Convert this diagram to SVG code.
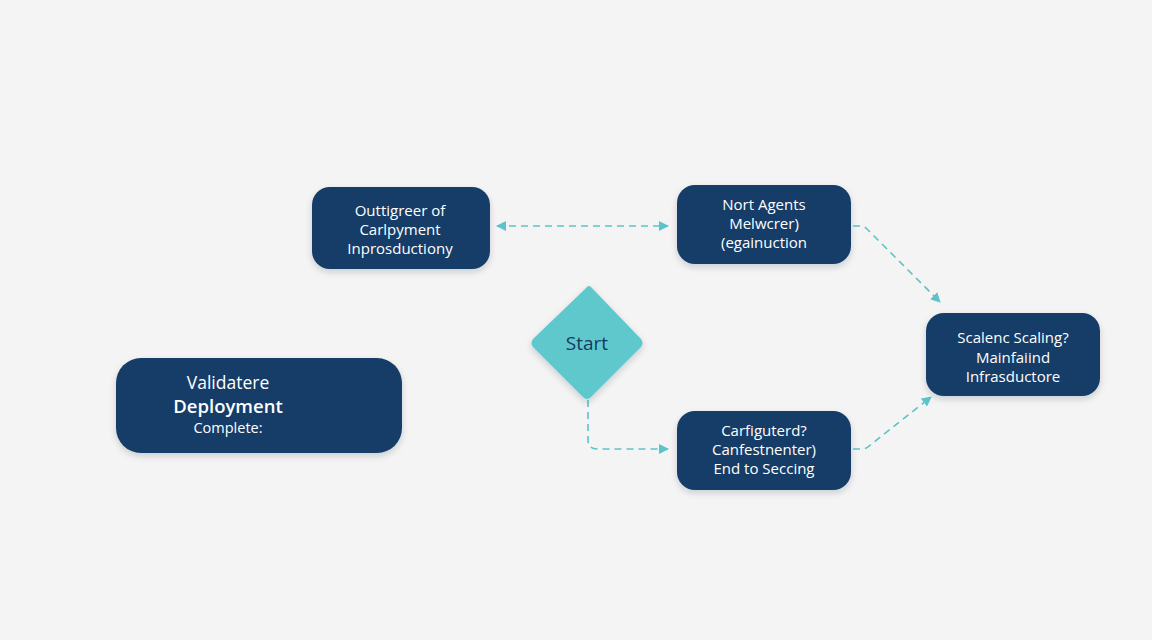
<svg xmlns="http://www.w3.org/2000/svg" width="1152" height="640" viewBox="0 0 1152 640">
  <defs>
    <filter id="sh" x="-20%" y="-20%" width="140%" height="160%">
      <feDropShadow dx="0" dy="3" stdDeviation="3" flood-color="#0a2540" flood-opacity="0.18"/>
    </filter>
    <marker id="ah" viewBox="0 0 10 10" refX="9" refY="5" markerWidth="10" markerHeight="10" markerUnits="userSpaceOnUse" orient="auto-start-reverse">
      <path d="M0,0 L10,5 L0,10 z" fill="#5bc3c9"/>
    </marker>
    <style>
      .node { fill: #133c68; filter: url(#sh); }
      .t { font-family: "Open Sans", "Noto Sans", "Liberation Sans", sans-serif; fill: #ffffff; text-anchor: middle; font-size: 15px; }
      .conn { fill: none; stroke: #5bc3c9; stroke-width: 1.6; stroke-dasharray: 7 5; }
    </style>
  </defs>
  <rect width="1152" height="640" fill="#f4f4f4"/>

  <g id="connectors">
    <path class="conn" d="M497,226 L668,226" marker-start="url(#ah)" marker-end="url(#ah)"/>
    <path class="conn" d="M588,400 L588,440 Q588,449 597,449 L668,449" marker-end="url(#ah)"/>
    <path class="conn" d="M853,226 L860,226 Q864,226 867,229 L940,302" marker-end="url(#ah)"/>
    <path class="conn" d="M853,449 L862,449 Q866,449 869,446 L931,397" marker-end="url(#ah)"/>
  </g>

  <g id="node-outtigreer">
    <rect class="node" x="312" y="187" width="178" height="82" rx="18"/>
    <text class="t" x="400" y="216">Outtigreer of</text>
    <text class="t" x="400" y="235">Carlpyment</text>
    <text class="t" x="400" y="254">Inprosductiony</text>
  </g>

  <g id="node-agents">
    <rect class="node" x="677" y="185" width="174" height="79" rx="18"/>
    <text class="t" x="764" y="210">Nort Agents</text>
    <text class="t" x="764" y="229">Melwcrer)</text>
    <text class="t" x="764" y="248">(egainuction</text>
  </g>

  <g id="node-scaling">
    <rect class="node" x="926" y="313" width="174" height="83" rx="18"/>
    <text class="t" x="1013" y="343">Scalenc Scaling?</text>
    <text class="t" x="1013" y="363">Mainfaiind</text>
    <text class="t" x="1013" y="382">Infrasductore</text>
  </g>

  <g id="node-configured">
    <rect class="node" x="677" y="411" width="174" height="79" rx="18"/>
    <text class="t" x="764" y="436">Carfiguterd?</text>
    <text class="t" x="764" y="455">Canfestnenter)</text>
    <text class="t" x="764" y="474">End to Seccing</text>
  </g>

  <g id="node-validate">
    <rect class="node" x="116" y="358" width="286" height="95" rx="25"/>
    <text class="t" x="228" y="389" style="font-size:17.5px">Validatere</text>
    <text class="t" x="228" y="413" style="font-size:18.5px;font-weight:600">Deployment</text>
    <text class="t" x="228" y="433" style="font-size:14.5px">Complete:</text>
  </g>

  <g id="node-start">
    <path d="M587,287 Q589,285 591,287 L641,339 Q644,343 641,347 L591,397 Q587,401 583,397 L533,347 Q530,343 533,339 L583,291 Z" fill="#5ec8cc" filter="url(#sh)"/>
    <text x="587" y="350" text-anchor="middle" font-family="&quot;Open Sans&quot;, &quot;Noto Sans&quot;, &quot;Liberation Sans&quot;, sans-serif" font-size="19" fill="#163a5e">Start</text>
  </g>
</svg>
